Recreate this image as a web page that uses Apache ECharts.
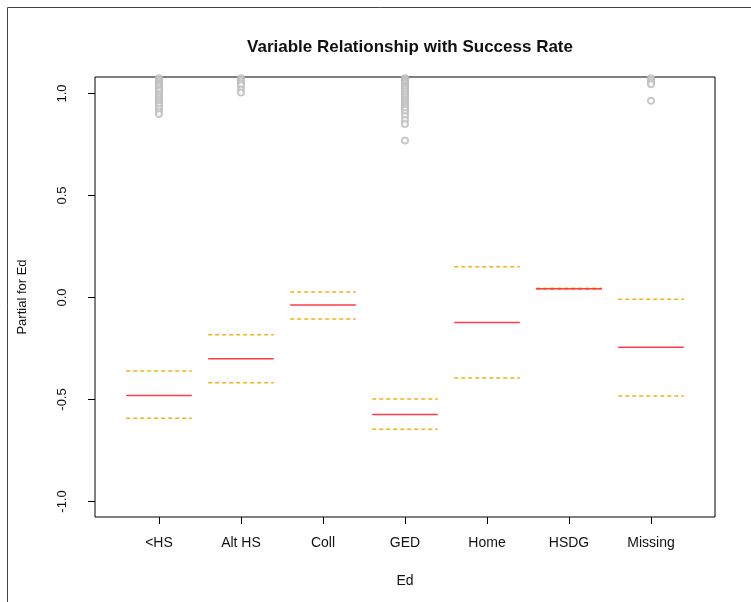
<!DOCTYPE html>
<html>
<head>
<meta charset="utf-8">
<script src="https://cdn.jsdelivr.net/npm/echarts@6/dist/echarts.min.js"></script>
<style>
html,body{margin:0;padding:0;background:#fff;}
#chart{width:751px;height:602px;}
</style>
</head>
<body>
<div id="chart"></div>
<script>
var categories = ['<HS', 'Alt HS', 'Coll', 'GED', 'Home', 'HSDG', 'Missing'];
var medians = [-0.48, -0.30, -0.037, -0.573, -0.122, 0.043, -0.244];
var upperBand = [-0.36, -0.182, 0.027, -0.498, 0.151, 0.046, -0.009];
var lowerBand = [-0.592, -0.418, -0.105, -0.646, -0.395, 0.040, -0.483];
var yTicks = [-1.0, -0.5, 0.0, 0.5, 1.0];
var outliersHS = [1.075, 1.068, 1.06, 1.052, 1.045, 1.038, 1.03, 1.02, 1.013, 1.0, 0.99, 0.98, 0.97, 0.96, 0.95, 0.94, 0.925, 0.912, 0.90];
var outliersAltHS = [1.075, 1.068, 1.06, 1.05, 1.04, 1.02, 1.005];
var outliersGED = [1.075, 1.07, 1.063, 1.057, 1.05, 1.04, 1.035, 1.028, 1.02, 1.01, 1.0, 0.99, 0.98, 0.97, 0.96, 0.95, 0.94, 0.93, 0.92, 0.905, 0.89, 0.87, 0.85, 0.77];
var outliersMissing = [1.075, 1.065, 1.055, 1.045, 0.965];

var outlierGroups = [outliersHS, outliersAltHS, [], outliersGED, [], [], outliersMissing];
var catPos = categories.map(function (c, i) { return i + 1; });
var halfWidth = 0.4;

function segData(vals) {
  return vals.map(function (v, i) { return [catPos[i], v]; });
}
function makeRender(color, dash) {
  return function (params, api) {
    var x = api.value(0), y = api.value(1);
    var p1 = api.coord([x - halfWidth, y]);
    var p2 = api.coord([x + halfWidth, y]);
    return {
      type: 'line',
      shape: { x1: p1[0], y1: p1[1], x2: p2[0], y2: p2[1] },
      style: { stroke: color, lineWidth: 1.5, lineDash: dash, fill: null }
    };
  };
}
var pts = [];
outlierGroups.forEach(function (g, i) {
  g.forEach(function (v) { pts.push([catPos[i], v]); });
});

var font = 'Liberation Sans, Arial, sans-serif';
var chart = echarts.init(document.getElementById('chart'), null, { renderer: 'canvas' });
chart.setOption({
  animation: false,
  backgroundColor: '#fff',
  title: {
    text: 'Variable Relationship with Success Rate',
    left: 405, top: 34, textAlign: 'center',
    textStyle: { fontFamily: font, fontSize: 17, fontWeight: 'bold', color: '#111' }
  },
  graphic: [{
    type: 'rect', shape: { x: 7.5, y: 7.5, width: 800, height: 700 },
    style: { fill: null, stroke: '#444', lineWidth: 1 }, silent: true
  }],
  grid: { left: 95, top: 77, width: 620, height: 440, show: true, borderColor: '#000', borderWidth: 1, backgroundColor: 'transparent' },
  xAxis: {
    type: 'value', min: 0.22, max: 7.78,
    name: 'Ed', nameLocation: 'middle', nameGap: 57,
    nameTextStyle: { fontFamily: font, fontSize: 14, color: '#111' },
    axisLine: { show: false, onZero: false },
    splitLine: { show: false },
    axisTick: { show: true, length: 7, inside: false, customValues: catPos, lineStyle: { color: '#000' } },
    axisLabel: {
      customValues: catPos, margin: 19, fontFamily: font, fontSize: 14, color: '#111',
      formatter: function (v) { return categories[Math.round(v) - 1] || ''; }
    }
  },
  yAxis: {
    type: 'value', min: -1.076, max: 1.081,
    name: 'Partial for Ed', nameLocation: 'middle', nameGap: 66, nameRotate: 90,
    nameTextStyle: { fontFamily: font, fontSize: 13, color: '#111' },
    axisLine: { show: false, onZero: false },
    splitLine: { show: false },
    axisTick: { show: true, length: 7, customValues: yTicks, lineStyle: { color: '#000' } },
    axisLabel: {
      customValues: yTicks, rotate: 90, margin: 26, fontFamily: font, fontSize: 13, color: '#111',
      formatter: function (v) { return v.toFixed(1); }
    }
  },
  series: [
    {
      type: 'scatter', data: pts, symbol: 'emptyCircle', symbolSize: 6,
      itemStyle: { color: '#bbb', borderColor: '#bbb', borderWidth: 0.8 }, z: 1
    },
    {
      type: 'custom', data: segData(upperBand), renderItem: makeRender('#f2b31a', [4, 3]), z: 2
    },
    {
      type: 'custom', data: segData(lowerBand), renderItem: makeRender('#f2b31a', [4, 3]), z: 2
    },
    {
      type: 'custom', data: segData(medians), renderItem: makeRender('#ff3d4a', null), z: 3
    }
  ]
});
</script>
</body>
</html>
